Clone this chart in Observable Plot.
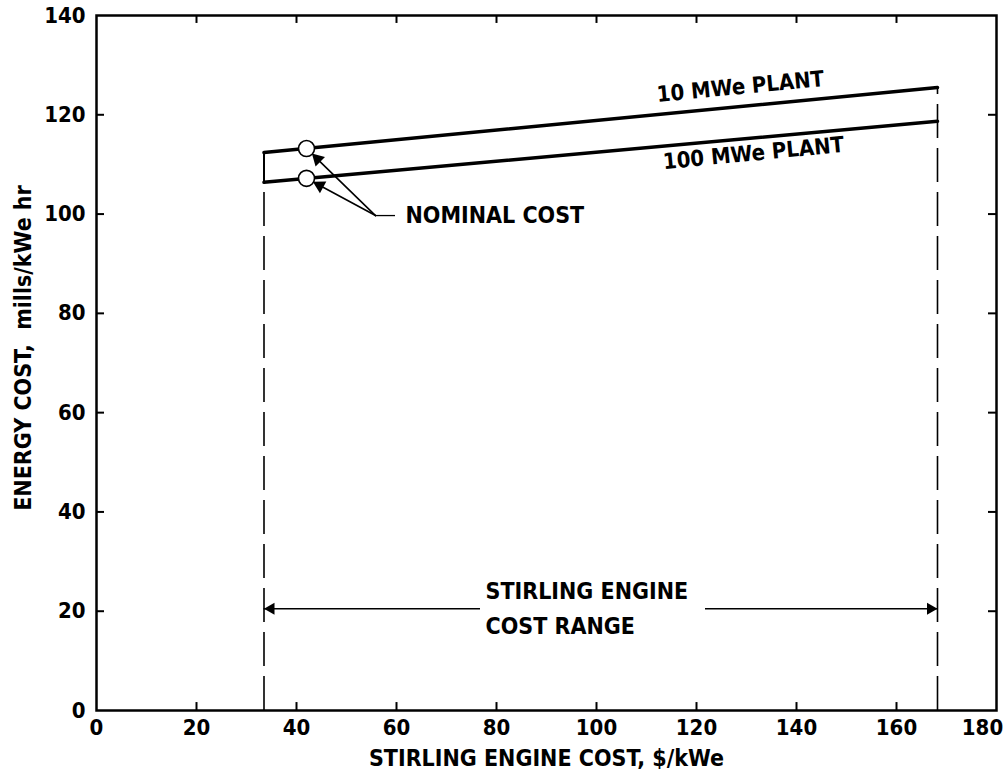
<!DOCTYPE html>
<html>
<head>
<meta charset="utf-8">
<script src="https://cdn.jsdelivr.net/npm/d3@7"></script>
<script src="https://cdn.jsdelivr.net/npm/@observablehq/plot@0.6"></script>
<style>
  html, body { margin: 0; padding: 0; background: #fff; }
  #chart { width: 1006px; height: 780px; }
</style>
</head>
<body>
<div id="chart"></div>
<script>
// ---- data ----
const xTicks = [0, 20, 40, 60, 80, 100, 120, 140, 160, 180];
const yTicks = [0, 20, 40, 60, 80, 100, 120, 140];
const plantNames = ["10 MWe PLANT", "100 MWe PLANT"];
const rangeX = [33.5, 168.2];               // Stirling engine cost range, $/kWe
const plant10Cost = [112.4, 125.5];         // energy cost at range ends, mills/kWe hr
const plant100Cost = [106.4, 118.7];
const nominalX = [42, 42];
const nominalY = [113.2, 107.2];
const nominalLabel = "NOMINAL COST";
const rangeLabel = ["STIRLING ENGINE", "COST RANGE"];
const xLabel = "STIRLING ENGINE COST, $/kWe";
const yLabel = "ENERGY COST,  mills/kWe hr";

// ---- tables ----
const lines = [
  ...rangeX.map((x, i) => ({x, y: plant10Cost[i], s: plantNames[0]})),
  ...rangeX.map((x, i) => ({x, y: plant100Cost[i], s: plantNames[1]}))
];
const nominal = nominalX.map((x, i) => ({x, y: nominalY[i]}));
const leaderOrigin = {x: 55.8, y: 99.7};

const font = "'DejaVu Sans Condensed', 'Liberation Sans Narrow', 'Arial Narrow', sans-serif";
const W = "bold";

const chart = Plot.plot({
  width: 1006,
  height: 780,
  marginLeft: 96,
  marginRight: 10,
  marginTop: 15,
  marginBottom: 70,
  style: {fontFamily: font, fontSize: "23px", color: "black", background: "white", overflow: "visible"},
  x: {domain: [0, 180]},
  y: {domain: [0, 140]},
  marks: [
    Plot.frame({stroke: "black", strokeWidth: 2.5}),
    // inward ticks on all four sides
    Plot.ruleX(xTicks.slice(1, -1), {x: d => d, y1: 0, y2: 1.6, stroke: "black", strokeWidth: 2}),
    Plot.ruleX(xTicks.slice(1, -1), {x: d => d, y1: 138.4, y2: 140, stroke: "black", strokeWidth: 2}),
    Plot.ruleY(yTicks.slice(1, -1), {y: d => d, x1: 0, x2: 1.6, stroke: "black", strokeWidth: 2}),
    Plot.ruleY(yTicks.slice(1, -1), {y: d => d, x1: 178.4, x2: 180, stroke: "black", strokeWidth: 2}),
    // tick labels
    Plot.axisX(xTicks.slice(0, -1), {tickSize: 0, tickPadding: 9, fontSize: 22, fontWeight: W, label: null}),
    Plot.axisX([180], {tickSize: 0, tickPadding: 9, fontSize: 22, fontWeight: W, dx: -14, label: null}),
    Plot.axisY(yTicks, {tickSize: 0, tickPadding: 11, fontSize: 22, fontWeight: W, label: null}),
    // axis titles
    Plot.text([xLabel], {frameAnchor: "bottom", dy: 55, text: d => d, fontSize: 23, fontWeight: W}),
    Plot.text([yLabel], {frameAnchor: "left", textAnchor: "middle", dx: -73, dy: -15, rotate: -90, text: d => d, fontSize: 23, fontWeight: W}),
    // cost range boundaries
    Plot.ruleX([rangeX[0]], {y1: 0, y2: plant100Cost[0], stroke: "black", strokeWidth: 1.6, strokeDasharray: "34,10"}),
    Plot.ruleX([rangeX[0]], {y1: plant100Cost[0], y2: plant10Cost[0], stroke: "black", strokeWidth: 2}),
    Plot.ruleX([rangeX[1]], {y1: 0, y2: plant10Cost[1], stroke: "black", strokeWidth: 1.6, strokeDasharray: "34,10"}),
    // plant lines
    Plot.line(lines, {x: "x", y: "y", z: "s", stroke: "black", strokeWidth: 3.5}),
    // nominal leaders
    Plot.ruleY([leaderOrigin.y], {x1: leaderOrigin.x, x2: 59.8, stroke: "black", strokeWidth: 1.3}),
    Plot.arrow(nominal, {x1: leaderOrigin.x, y1: leaderOrigin.y, x2: "x", y2: "y", insetEnd: 12, headLength: 0, stroke: "black", strokeWidth: 1.6}),
    Plot.dot([nominal[0]], {x: "x", y: "y", symbol: "triangle", r: 5, fill: "black", rotate: -45.8, dx: 11, dy: 10.5}),
    Plot.dot([nominal[1]], {x: "x", y: "y", symbol: "triangle", r: 5, fill: "black", rotate: -61.7, dx: 13.2, dy: 7.2}),
    Plot.dot(nominal, {x: "x", y: "y", r: 8, fill: "white", stroke: "black", strokeWidth: 1.6}),
    Plot.text([nominalLabel], {x: 61.8, y: leaderOrigin.y, text: d => d, textAnchor: "start", fontSize: 23, fontWeight: W}),
    // plant labels
    Plot.text([plantNames[0]], {x: 128.8, y: 125.6, text: d => d, rotate: -5.5, fontSize: 22, fontWeight: W}),
    Plot.text([plantNames[1]], {x: 131.4, y: 112.2, text: d => d, rotate: -5.5, fontSize: 22, fontWeight: W}),
    // cost range arrows and label
    Plot.ruleY([20.5], {x1: rangeX[0], x2: 76.8, stroke: "black", strokeWidth: 1.3}),
    Plot.ruleY([20.5], {x1: 121.8, x2: rangeX[1], stroke: "black", strokeWidth: 1.3}),
    Plot.dot([rangeX[0]], {x: d => d, y: 20.5, symbol: "triangle", r: 4.5, fill: "black", rotate: -90, dx: 7}),
    Plot.dot([rangeX[1]], {x: d => d, y: 20.5, symbol: "triangle", r: 4.5, fill: "black", rotate: 90, dx: -7}),
    Plot.text([rangeLabel[0]], {x: 77.8, y: 24, text: d => d, textAnchor: "start", fontSize: 23, fontWeight: W}),
    Plot.text([rangeLabel[1]], {x: 77.8, y: 16.9, text: d => d, textAnchor: "start", fontSize: 23, fontWeight: W})
  ]
});
document.getElementById("chart").append(chart);
</script>
</body>
</html>
